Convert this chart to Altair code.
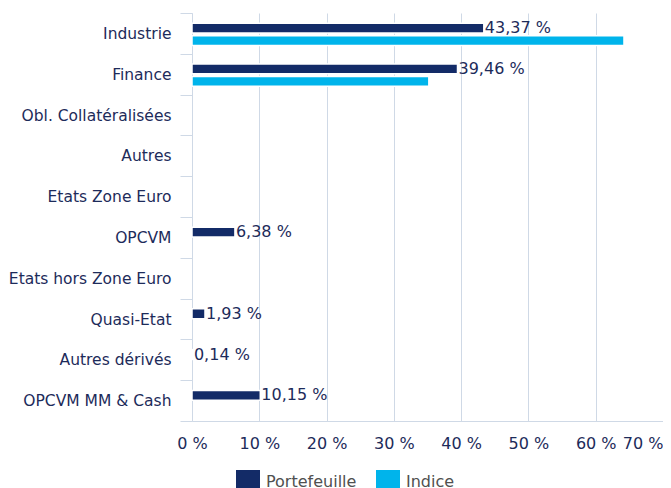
import altair as alt
import pandas as pd

categories = ["Industrie", "Finance", "Obl. Collatéralisées", "Autres", "Etats Zone Euro",
              "OPCVM", "Etats hors Zone Euro", "Quasi-Etat", "Autres dérivés", "OPCVM MM & Cash"]
portefeuille = [43.37, 39.46, 0, 0, 0, 6.38, 0, 1.93, 0.14, 10.15]
indice = [64.2, 35.2, 0, 0, 0, 0, 0, 0, 0, 0]
series = ["Portefeuille", "Indice"]
x_ticks = [0, 10, 20, 30, 40, 50, 60, 70]

rows = []
for c, p, i in zip(categories, portefeuille, indice):
    rows.append({"cat": c, "series": "Portefeuille", "value": p})
    rows.append({"cat": c, "series": "Indice", "value": i})
df = pd.DataFrame(rows)

FONT = "DejaVu Sans"
NAVY = "#132b67"
CYAN = "#00b4eb"
TEXT = "#1d2b5a"
GRID = "#cfd9e6"

x_enc = alt.X(
    "value:Q",
    scale=alt.Scale(domain=[0, 70], nice=False, zero=True),
    axis=alt.Axis(
        values=x_ticks, title=None, labelExpr="datum.value + ' %'",
        grid=True, gridColor=GRID, domainColor=GRID, ticks=False, tickSize=0,
        labelPadding=14, labelFontSize=16, labelColor=TEXT, labelFont=FONT,
        labelAlign={"condition": {"test": "datum.value == 70", "value": "right"}, "value": "center"},
    ),
)
y_enc = alt.Y(
    "cat:N", sort=categories,
    scale=alt.Scale(domain=categories, paddingInner=0, paddingOuter=0),
    axis=alt.Axis(
        title=None, tickBand="extent", tickSize=12, tickColor=GRID, domainColor=GRID,
        labelPadding=9, labelFontSize=15.5, labelColor=TEXT, labelFont=FONT,
        grid=False, labelLimit=300,
    ),
)
yoff_enc = alt.YOffset(
    "series:N", sort=series,
    scale=alt.Scale(domain=series, paddingInner=0.21, paddingOuter=0.75, align=0.55),
)

bars = alt.Chart(df).transform_filter("datum.value > 0").mark_bar(
    stroke="white", strokeWidth=1.5
).encode(
    x=x_enc,
    y=y_enc,
    yOffset=yoff_enc,
    color=alt.Color(
        "series:N", sort=series,
        scale=alt.Scale(domain=series, range=[NAVY, CYAN]),
        legend=alt.Legend(
            title=None, orient="none", legendX=44, legendY=457, direction="horizontal",
            symbolType="square", symbolSize=576, symbolStrokeWidth=0,
            labelFontSize=16, labelFont=FONT, labelColor="#505050",
            labelOffset=6, columnPadding=19, padding=0,
        ),
    ),
)

labels = alt.Chart(df).transform_filter(
    "datum.series == 'Portefeuille' && datum.value > 0"
).transform_calculate(
    label="replace(format(datum.value, '.2f'), '.', ',') + ' %'"
).mark_text(
    align="left", baseline="middle", dx=1, font=FONT, fontSize=16, color=TEXT
).encode(
    x=x_enc,
    y=y_enc,
    yOffset=yoff_enc,
    text="label:N",
)

chart = alt.layer(bars, labels).properties(
    width=471, height=408,
    autosize=alt.AutoSizeParams(type="none"),
    padding={"left": 184, "top": 5, "right": 0, "bottom": 67},
).configure_view(stroke=None)

chart.save("out.html", embed_options={"renderer": "svg", "actions": False})
